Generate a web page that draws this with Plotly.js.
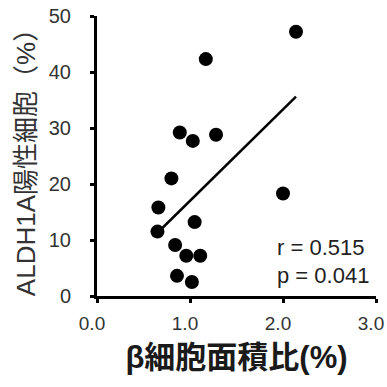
<!DOCTYPE html>
<html><head><meta charset="utf-8">
<script src="https://cdn.plot.ly/plotly-3.0.1.min.js"></script>
<style>html,body{margin:0;padding:0;background:#fff;overflow:hidden}#chart{width:387px;height:387px}</style>
</head><body><div id="chart"></div>
<script>
const betaArea = [2.14, 1.17, 0.89, 1.03, 1.28, 0.80, 2.00, 0.66, 1.05, 0.65, 0.84, 0.96, 1.11, 0.86, 1.02];
const aldhPos  = [47.2, 42.3, 29.2, 27.7, 28.8, 21.0, 18.3, 15.8, 13.2, 11.5, 9.1, 7.2, 7.2, 3.6, 2.5];
const fitX = [0.70, 2.14];
const fitY = [12.1, 35.6];
const statLabels = ["r = 0.515", "p = 0.041"];
const statY = [8.6, 3.7];
const xTicks = [0, 1, 2, 3];
const xTickText = ["0.0", "1.0", "2.0", "3.0"];
const yTicks = [0, 10, 20, 30, 40, 50];

const data = [
  {x: betaArea, y: aldhPos, type: 'scatter', mode: 'markers',
   marker: {color: '#000', size: 14}, cliponaxis: false, hoverinfo: 'skip'},
  {x: fitX, y: fitY, type: 'scatter', mode: 'lines',
   line: {color: '#000', width: 2.5}, hoverinfo: 'skip'}
];
const layout = {
  width: 387, height: 387,
  margin: {l: 97, r: 11, t: 16, b: 91},
  showlegend: false,
  paper_bgcolor: '#fff', plot_bgcolor: '#fff',
  font: {family: 'Liberation Sans, Arial, sans-serif', color: '#333'},
  xaxis: {range: [0, 3], tickvals: xTicks, ticktext: xTickText,
    showgrid: false, zeroline: false, showline: true, linecolor: '#000', linewidth: 3,
    ticks: 'outside', ticklen: 4, tickwidth: 3, tickcolor: '#000',
    tickfont: {size: 19, color: '#333'}, ticklabelstandoff: 4, ticklabelshift: -5,
    ticklabeloverflow: 'allow',
    title: {text: 'β細胞面積比(%)', standoff: 14,
      font: {family: 'Liberation Sans, Noto Sans CJK JP, sans-serif', size: 31, color: '#1a1a1a', weight: 'bold'}}},
  yaxis: {range: [0, 50], tickvals: yTicks,
    showgrid: false, zeroline: false, showline: true, linecolor: '#000', linewidth: 3,
    ticks: 'outside', ticklen: 4, tickwidth: 3, tickcolor: '#000',
    tickfont: {size: 20, color: '#333'}, ticklabelstandoff: 15,
    title: {text: 'ALDH1A陽性細胞（%）', standoff: 6,
      font: {family: 'Liberation Sans, Noto Sans CJK JP, sans-serif', size: 26, color: '#333'}}},
  annotations: statLabels.map((t, i) => ({
    x: 1.91, y: statY[i], xref: 'x', yref: 'y', text: t, showarrow: false,
    xanchor: 'left', yanchor: 'middle',
    font: {family: 'Liberation Sans, Arial, sans-serif', size: 22, color: '#222'}
  }))
};
Plotly.newPlot('chart', data, layout, {staticPlot: true, displayModeBar: false});
</script></body></html>
